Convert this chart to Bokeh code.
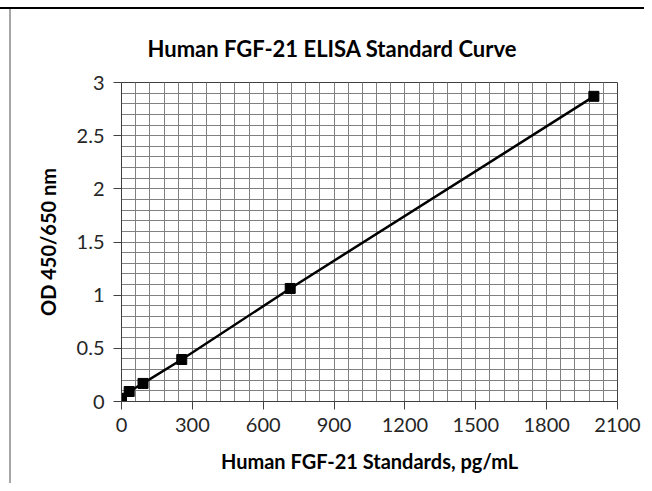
import numpy as np
from bokeh.plotting import figure
from bokeh.models import FixedTicker, Range1d, Title, ColumnDataSource
from bokeh.embed import file_html
from bokeh.resources import INLINE

# data
conc = [0, 32.5, 91.1, 255.1, 714.3, 2000]
od = [0.03, 0.094, 0.17, 0.395, 1.063, 2.87]

x_ticks = [0, 300, 600, 900, 1200, 1500, 1800, 2100]
x_tick_labels = ["0", "300", "600", "900", "1200", "1500", "1800", "2100"]
y_ticks = [0, 0.5, 1, 1.5, 2, 2.5, 3]
y_tick_labels = ["0", "0.5", "1", "1.5", "2", "2.5", "3"]

title_text = "Human FGF-21 ELISA Standard Curve"
x_label = "Human FGF-21 Standards, pg/mL"
y_label = "OD 450/650 nm"

FONT = "Lato"

p = figure(width=644, height=483, output_backend="svg", toolbar_location=None,
           x_range=Range1d(0, 2100), y_range=Range1d(0, 3),
           min_border_left=121, min_border_right=27, min_border_top=82, min_border_bottom=82)
p.title = None
t = Title(text=title_text, align="left", offset=26, text_font=FONT, text_font_size="22px",
          text_font_style="bold", text_color="black", standoff=41)
p.add_layout(t, "above")

p.background_fill_color = "white"
p.border_fill_alpha = 0
p.outline_line_color = "#404040"
p.outline_line_width = 1

# outer chart borders (top black rule, left grey edge)
p.styles = {"box-shadow": "inset 0 7px 0 0 white, inset 0 9px 0 0 black, "
                          "inset 9px 0 0 0 white, inset 11px 0 0 0 #a6a6a6"}

# grid
p.xgrid.ticker = FixedTicker(ticks=list(np.arange(0, 2101, 60)))
p.ygrid.ticker = FixedTicker(ticks=list(np.round(np.arange(0, 3.01, 0.1), 2)))
for g in (p.xgrid, p.ygrid):
    g.grid_line_color = "#808080"
    g.grid_line_width = 1

# axes
for ax in (p.xaxis, p.yaxis):
    ax.axis_line_color = "#404040"
    ax.major_tick_line_color = "#404040"
    ax.major_tick_in = 0
    ax.major_tick_out = 8
    ax.minor_tick_line_color = None
    ax.major_label_text_font = FONT
    ax.major_label_text_font_size = "20px"
    ax.major_label_text_color = "#262626"
    ax.axis_label_text_font = FONT
    ax.axis_label_text_font_size = "20px"
    ax.axis_label_text_font_style = "bold"
    ax.axis_label_text_color = "black"

p.xaxis.ticker = FixedTicker(ticks=x_ticks)
p.xaxis.major_label_overrides = {tk: lb for tk, lb in zip(x_ticks, x_tick_labels)}
p.yaxis.ticker = FixedTicker(ticks=y_ticks)
p.yaxis.major_label_overrides = {tk: lb for tk, lb in zip(y_ticks, y_tick_labels)}
p.xaxis.axis_label = x_label
p.yaxis.axis_label = y_label
p.xaxis.major_label_standoff = 8
p.yaxis.major_label_standoff = 9
p.xaxis.axis_label_standoff = 14
p.yaxis.axis_label_standoff = 14

src = ColumnDataSource(dict(x=conc, y=od))
p.line("x", "y", source=src, line_color="black", line_width=2.5)
p.scatter("x", "y", source=src, marker="square", size=10, fill_color="black", line_color="black")

open("out.html", "w").write(file_html(p, INLINE))
